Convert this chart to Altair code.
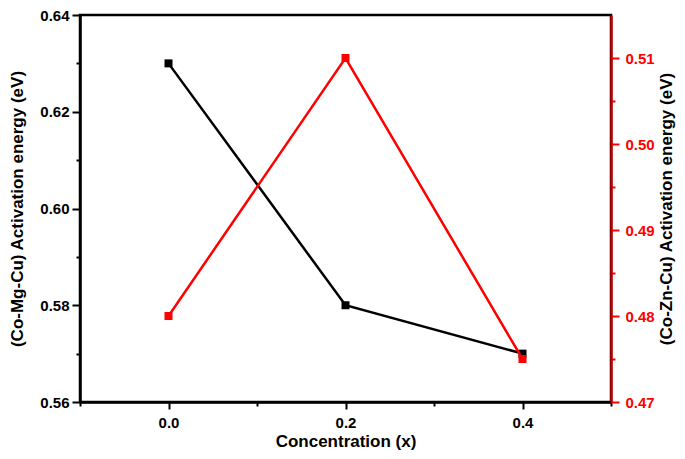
import altair as alt
import pandas as pd

# Data
concentration = [0.0, 0.2, 0.4]
co_mg_cu = [0.63, 0.58, 0.57]
co_zn_cu = [0.48, 0.51, 0.475]

x_major = [0.0, 0.2, 0.4]
x_minor = [-0.1, 0.1, 0.3, 0.5]
left_major = [0.56, 0.58, 0.60, 0.62, 0.64]
left_minor = [0.57, 0.59, 0.61, 0.63]
right_major = [0.47, 0.48, 0.49, 0.50, 0.51]
right_minor = [0.475, 0.485, 0.495, 0.505]

df = pd.DataFrame({"x": concentration, "mg": co_mg_cu, "zn": co_zn_cu})

FONT = "Liberation Sans"
RED = "#ff0000"

xscale = alt.Scale(domain=[-0.1, 0.5], nice=False, zero=False)
lscale = alt.Scale(domain=[0.56, 0.64], nice=False, zero=False)
rscale = alt.Scale(domain=[0.47, 0.515], nice=False, zero=False)

base = alt.Chart(df)

black = base.mark_line(
    color="black", strokeWidth=2.5,
    point=alt.OverlayMarkDef(shape="square", filled=True, color="black", size=64, opacity=1),
).encode(
    x=alt.X("x:Q", scale=xscale, axis=alt.Axis(
        values=x_major, format=".1f", title="Concentration (x)", orient="bottom",
        tickSize=7, labelPadding=6, titlePadding=3)),
    y=alt.Y("mg:Q", scale=lscale, axis=alt.Axis(
        values=left_major, format=".2f", orient="left",
        title="(Co-Mg-Cu) Activation energy (eV)",
        tickSize=8, labelPadding=3, titlePadding=13)),
)

black_minor = base.mark_point(opacity=0).encode(
    x=alt.X("x:Q", scale=xscale, axis=alt.Axis(
        values=x_minor, labels=False, domain=False, tickSize=4, title=None, orient="bottom")),
    y=alt.Y("mg:Q", scale=lscale, axis=alt.Axis(
        values=left_minor, labels=False, domain=False, tickSize=4, title=None, orient="left")),
)

red = base.mark_line(
    color=RED, strokeWidth=2.5,
    point=alt.OverlayMarkDef(shape="square", filled=True, color=RED, size=64, opacity=1),
).encode(
    x=alt.X("x:Q", scale=xscale, axis=None),
    y=alt.Y("zn:Q", scale=rscale, axis=alt.Axis(
        values=right_major, format=".2f", orient="right",
        title="(Co-Zn-Cu) Activation energy (eV)",
        titleAngle=270, titleBaseline="top",
        domainColor="#c00000", tickColor=RED, labelColor=RED, titleColor="black",
        tickSize=8, labelPadding=6, titlePadding=4)),
)

red_minor = base.mark_point(opacity=0).encode(
    x=alt.X("x:Q", scale=xscale, axis=None),
    y=alt.Y("zn:Q", scale=rscale, axis=alt.Axis(
        values=right_minor, labels=False, domain=False, tickSize=4, title=None,
        orient="right", tickColor=RED)),
)

chart = alt.layer(black_minor, black, red_minor, red).resolve_scale(
    y="independent"
).resolve_axis(
    y="independent", x="independent"
).properties(
    width=531, height=387,
    autosize=alt.AutoSizeParams(type="none"),
    padding={"left": 72, "top": 7, "right": 66, "bottom": 49},
).configure_view(
    stroke="black", strokeWidth=2.5
).configure_axis(
    grid=False,
    domainColor="black", domainWidth=2.5,
    tickColor="black", tickWidth=2,
    labelFont=FONT, labelFontWeight="bold", labelFontSize=15, labelColor="black",
    titleFont=FONT, titleFontWeight="bold", titleFontSize=17, titleColor="black",
)

chart.save("out.html", embed_options={"renderer": "svg", "actions": False})
